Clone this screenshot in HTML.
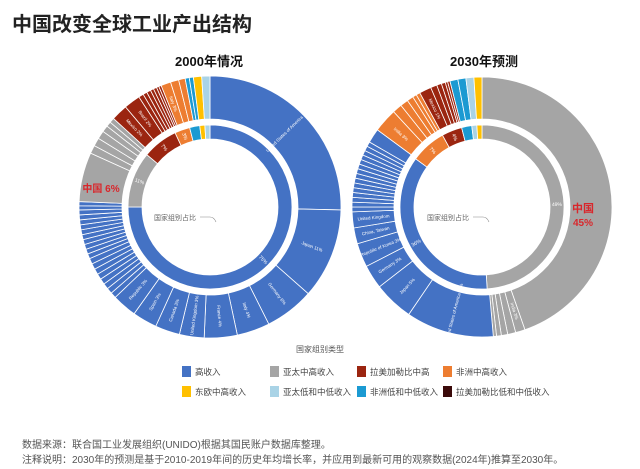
<!DOCTYPE html>
<html><head><meta charset="utf-8"><style>
body{margin:0;background:#fff;}
#wrap{position:relative;width:640px;height:469px;overflow:hidden;font-family:"Liberation Sans","Noto Sans CJK SC",sans-serif;}
</style></head><body>
<div id="wrap">
<svg id="svg" width="640" height="469" viewBox="0 0 640 469" xmlns="http://www.w3.org/2000/svg">
<text x="12" y="31" font-size="20" font-weight="bold" fill="#222">中国改变全球工业产出结构</text>
<text x="209" y="66" font-size="13" font-weight="bold" fill="#111" text-anchor="middle">2000年情况</text>
<text x="484" y="66" font-size="13" font-weight="bold" fill="#111" text-anchor="middle">2030年预测</text>
<g id="donuts"></g>
<text x="320" y="352" font-size="8" fill="#555" text-anchor="middle">国家组别类型</text>
<g id="legend"></g>
<text x="22" y="448" font-size="10" fill="#555">数据来源：联合国工业发展组织(UNIDO)根据其国民账户数据库整理。</text>
<text x="22" y="463" font-size="10" fill="#555">注释说明：2030年的预测是基于2010-2019年间的历史年均增长率，并应用到最新可用的观察数据(2024年)推算至2030年。</text>
</svg>
</div>
<script>
const groupNames = ['高收入','亚太中高收入','拉美加勒比中高','非洲中高收入','东欧中高收入','亚太低和中低收入','非洲低和中低收入','拉美加勒比低和中低收入'];
const groupColors = ['#4472C4','#A5A5A5','#9B2510','#ED7D31','#FFC000','#A9D3E6','#1B9AD2','#3B0A0A'];
// 2000 inner (group shares, order drawn clockwise from top)
const inner2000Groups = [0,1,2,3,6,4,5];
const inner2000Values = [75,11,7,3,2,1,1];
const inner2000Labels = ['75%','11%','7%','3%','','',''];
// 2000 outer (country shares)
const outer2000Groups = [0,0,0,0,0,0,0,0,0,0,0,0,0,0,0,0,0,0,0,0,0,0,0,0,0,0,0,0,0,1,1,1,1,1,1,1,2,2,2,2,2,2,2,2,2,3,3,3,6,6,4,5];
const outer2000Values = [25,11,6,4,4,3,3,3,3,0.7,0.7,0.7,0.7,0.7,0.7,0.7,0.7,0.6,0.6,0.6,0.6,0.6,0.6,0.6,0.6,0.6,0.6,0.5,0.5,6,1,1,1,0.8,0.6,0.6,2,2,0.6,0.5,0.5,0.4,0.4,0.3,0.3,1.2,1,0.8,0.5,0.5,1,1];
const outer2000Labels = ['United States of America 25%','Japan 11%','Germany 6%','Italy 4%','France 4%','United Kingdom 3%','Canada 3%','Spain 3%','Republic 3%','','','','','','','','','','','','','','','','','','','','','','','','','','','','Mexico 2%','Brazil 2%','','','','','','','','Italy 3%','','','','','',''];
// 2030 inner
const inner2030Groups = [1,0,3,2,6,5,4];
const inner2030Values = [49,36,7,4,2,1,1];
const inner2030Labels = ['49%','36%','7%','4%','','',''];
// 2030 outer
const outer2030Groups = [1,1,1,1,1,1,0,0,0,0,0,0,0,0,0,0,0,0,0,0,0,0,0,0,0,0,0,0,3,3,3,3,3,3,2,2,2,2,2,2,6,6,5,4];
const outer2030Values = [45,1.2,1,0.8,0.6,0.4,11,5,3,3,2,2,0.6,0.6,0.6,0.6,0.6,0.6,0.6,0.6,0.6,0.6,0.6,0.6,0.6,0.6,0.6,1.8,3,1.2,1,0.8,0.5,0.5,1.5,0.8,0.6,0.5,0.3,0.3,1,1,1,1];
const outer2030Labels = ['','India 3%','','','','','United States of America 11%','Japan 5%','Germany 3%','Republic of Korea 3%','China, Taiwan','United Kingdom','','','','','','','','','','','','','','','','','India 3%','','','','','','Mexico 1%','','','','','','','','',''];

const NS='http://www.w3.org/2000/svg';
function pt(cx,cy,r,a){const t=(a-90)*Math.PI/180;return [cx+r*Math.cos(t),cy+r*Math.sin(t)];}
function arc(cx,cy,r0,r1,a0,a1){
  const L=(a1-a0)>180?1:0;
  const p1=pt(cx,cy,r1,a0),p2=pt(cx,cy,r1,a1),p3=pt(cx,cy,r0,a1),p4=pt(cx,cy,r0,a0);
  return `M${p1[0]},${p1[1]}A${r1},${r1} 0 ${L} 1 ${p2[0]},${p2[1]}L${p3[0]},${p3[1]}A${r0},${r0} 0 ${L} 0 ${p4[0]},${p4[1]}Z`;
}
const root=document.getElementById('donuts');
function ring(cx,cy,r0,r1,vals,groups,labels,name,fs){
  const tot=vals.reduce((a,b)=>a+b,0);
  let a=0;
  vals.forEach((v,i)=>{
    const a1=a+v/tot*360;
    const p=document.createElementNS(NS,'path');
    p.setAttribute('d',arc(cx,cy,r0,r1,a,a1));
    p.setAttribute('fill',groupColors[groups[i]]);
    p.setAttribute('stroke','#fff');
    p.setAttribute('stroke-width','0.8');
    
    
    root.appendChild(p);
    if(labels[i]){
      const m=(a+a1)/2, rm=(r0+r1)/2, q=pt(cx,cy,rm,m);
      const t=document.createElementNS(NS,'text');
      let rot=m-90; if(m>180) rot=m+90;
      if(m<=180) rot=m-90;
      t.setAttribute('x',q[0]);t.setAttribute('y',q[1]);
      t.setAttribute('font-size',fs);t.setAttribute('fill','#fff');
      t.setAttribute('text-anchor','middle');t.setAttribute('dominant-baseline','middle');
      t.setAttribute('transform',`rotate(${rot} ${q[0]} ${q[1]})`);
      t.textContent=labels[i];
      
      
      root.appendChild(t);
    }
    a=a1;
  });
}
ring(210,207,68,82,inner2000Values,inner2000Groups,inner2000Labels,'inner-2000',5);
ring(210,207,88,131,outer2000Values,outer2000Groups,outer2000Labels,'outer-2000',4.5);
ring(482,207,68,82,inner2030Values,inner2030Groups,inner2030Labels,'inner-2030',5);
ring(482,207,88,130,outer2030Values,outer2030Groups,outer2030Labels,'outer-2030',4.5);

function txt(x,y,s,fs,fill,anchor,name,bold){
  const t=document.createElementNS(NS,'text');
  t.setAttribute('x',x);t.setAttribute('y',y);t.setAttribute('font-size',fs);t.setAttribute('fill',fill);
  t.setAttribute('text-anchor',anchor);if(bold)t.setAttribute('font-weight','bold');
  t.textContent=s;
  
  
  document.getElementById('svg').appendChild(t);
}
txt(101,192,'中国 6%',10,'#D9262B','middle','china-2000-label',true);
txt(583,212,'中国',11,'#D9262B','middle','china-2030-label',true);
txt(583,226,'45%',10,'#D9262B','middle','china-2030-value',true);
txt(196,220,'国家组别占比',7,'#666','end','center-label-2000');
txt(469,220,'国家组别占比',7,'#666','end','center-label-2030');
[[200,268],[473,542]].forEach((c,i)=>{
  const l=document.createElementNS(NS,'path');
  l.setAttribute('d',`M${c[0]},217 L${c[0]+10},217 Q${c[0]+14},217 ${c[0]+16},222`);
  l.setAttribute('stroke','#888');l.setAttribute('fill','none');l.setAttribute('stroke-width','0.6');
  
  
  document.getElementById('svg').appendChild(l);
});
const lx=[182,270,357,443], ly=[366,386];
const lg=document.getElementById('legend');
groupNames.forEach((n,i)=>{
  const x=lx[i%4], y=ly[Math.floor(i/4)];
  const r=document.createElementNS(NS,'rect');
  r.setAttribute('x',x);r.setAttribute('y',y);r.setAttribute('width',9);r.setAttribute('height',11);
  r.setAttribute('fill',groupColors[i]);
  
  
  lg.appendChild(r);
  const t=document.createElementNS(NS,'text');
  t.setAttribute('x',x+13);t.setAttribute('y',y+9);t.setAttribute('font-size',8.5);t.setAttribute('fill','#444');
  t.textContent=n;
  
  
  lg.appendChild(t);
});
</script>
</body></html>
